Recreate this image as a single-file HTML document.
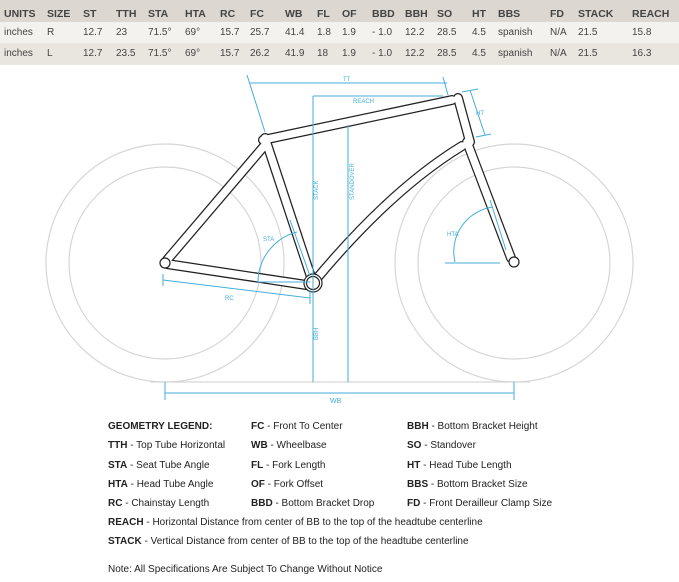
<!DOCTYPE html>
<html><head><meta charset="utf-8"><style>
body{margin:0;background:#fff;width:679px;height:582px;overflow:hidden;font-family:"Liberation Sans",sans-serif;position:relative}
.r{position:absolute;left:0;width:679px;height:21px}
.t{position:absolute;font-size:10px;color:#444;white-space:nowrap}
.h{font-weight:bold;color:#444;font-size:10.5px}
.lg{position:absolute;font-size:10px;color:#222;white-space:nowrap}
.lg b{font-weight:bold}
</style></head><body>
<div class="r" style="top:0;height:22px;background:#dcd7d0"></div>
<div class="r" style="top:22px;background:#f4f2ef"></div>
<div class="r" style="top:43px;background:#e9e5df;height:22px"></div>
<div id="tbl"></div>
<script>
var xs=[4,47,83,116,148,185,220,250,285,317,342,372,405,437,472,498,550,578,632];
var rows=[["UNITS","SIZE","ST","TTH","STA","HTA","RC","FC","WB","FL","OF","BBD","BBH","SO","HT","BBS","FD","STACK","REACH"],
["inches","R","12.7","23","71.5°","69°","15.7","25.7","41.4","1.8","1.9","- 1.0","12.2","28.5","4.5","spanish","N/A","21.5","15.8"],
["inches","L","12.7","23.5","71.5°","69°","15.7","26.2","41.9","18","1.9","- 1.0","12.2","28.5","4.5","spanish","N/A","21.5","16.3"]];
var ys=[8,27,48],h="";
rows.forEach(function(r,i){r.forEach(function(c,j){h+='<div class="t'+(i==0?' h':'')+'" style="left:'+xs[j]+'px;top:'+ys[i]+'px">'+c+'</div>';});});
document.getElementById('tbl').innerHTML=h;
</script>
<svg width="679" height="582" style="position:absolute;left:0;top:0">
<g fill="none" stroke="#d6d6d6" stroke-width="1.2">
<circle cx="165" cy="263" r="119"/><circle cx="165" cy="263" r="96"/>
<circle cx="514" cy="263" r="119"/><circle cx="514" cy="263" r="96"/>
<line x1="150" y1="382" x2="530" y2="382"/>
</g>
<g fill="none" stroke="#222" stroke-width="10" stroke-linecap="round" stroke-linejoin="round">
<path d="M263 140 L452 100"/><path d="M458 98 L470 142"/>
<path d="M462 146 Q390 190 313 283"/><path d="M265 138 L313 283"/>
<path d="M265 145 L167 260"/><path d="M167 264 L313 286"/>
<path d="M467 142 L511 258"/>
</g>
<g fill="none" stroke="#fff" stroke-width="7.5" stroke-linecap="round" stroke-linejoin="round">
<path d="M263 140 L452 100"/><path d="M458 98 L470 142"/>
<path d="M462 146 Q390 190 313 283"/><path d="M265 138 L313 283"/>
<path d="M265 145 L167 260"/><path d="M167 264 L313 286"/>
<path d="M467 142 L511 258"/>
</g>
<g fill="#fff" stroke="#222" stroke-width="1.2">
<circle cx="313" cy="283" r="9"/><circle cx="313" cy="283" r="6.5"/>
<circle cx="165" cy="263" r="5"/><circle cx="514" cy="262" r="5"/>
</g>
<g fill="none" stroke="#45aedb" stroke-width="1">
<line x1="250" y1="83" x2="447" y2="83"/><line x1="247" y1="75" x2="265" y2="132"/><line x1="443" y1="77" x2="448" y2="95"/>
<line x1="313" y1="96" x2="443" y2="96"/>
<line x1="313" y1="96" x2="313" y2="382"/>
<line x1="348" y1="125" x2="348" y2="382"/>
<line x1="470" y1="90" x2="485" y2="135"/><line x1="462" y1="92" x2="478" y2="89"/><line x1="476" y1="137" x2="491" y2="134"/>
<path d="M297 232 A52 52 0 0 0 258 282"/><line x1="258" y1="282" x2="310" y2="282"/><line x1="290" y1="220" x2="310" y2="276"/>
<path d="M455 262 A45 45 0 0 1 493 207"/><line x1="445" y1="263" x2="500" y2="263"/><line x1="490" y1="200" x2="506" y2="250"/>
<line x1="163" y1="280" x2="310" y2="298"/><line x1="163" y1="274" x2="163" y2="286"/><line x1="310" y1="290" x2="310" y2="304"/>
<line x1="165" y1="393" x2="514" y2="393"/><line x1="165" y1="382" x2="165" y2="400"/><line x1="514" y1="382" x2="514" y2="400"/>
</g>
<g fill="#45aedb" font-size="6" font-family="Liberation Sans,sans-serif">
<text x="343" y="81">TT</text><text x="353" y="103">REACH</text>
<text x="476" y="115">HT</text><text x="263" y="241">STA</text><text x="447" y="236">HTA</text>
<text x="225" y="300">RC</text><text x="330" y="403" font-size="7">WB</text>
<text transform="translate(318,200) rotate(-90)">STACK</text>
<text transform="translate(318,340) rotate(-90)">BBH</text>
<text transform="translate(354,200) rotate(-90)">STANDOVER</text>
</g>
</svg>
<div class="lg" style="left:108px;top:421px"><b>GEOMETRY LEGEND:</b></div>
<div class="lg" style="left:251px;top:421px"><b>FC</b> - Front To Center</div>
<div class="lg" style="left:407px;top:421px"><b>BBH</b> - Bottom Bracket Height</div>
<div class="lg" style="left:108px;top:440px"><b>TTH</b> - Top Tube Horizontal</div>
<div class="lg" style="left:251px;top:440px"><b>WB</b> - Wheelbase</div>
<div class="lg" style="left:407px;top:440px"><b>SO</b> - Standover</div>
<div class="lg" style="left:108px;top:460px"><b>STA</b> - Seat Tube Angle</div>
<div class="lg" style="left:251px;top:460px"><b>FL</b> - Fork Length</div>
<div class="lg" style="left:407px;top:460px"><b>HT</b> - Head Tube Length</div>
<div class="lg" style="left:108px;top:479px"><b>HTA</b> - Head Tube Angle</div>
<div class="lg" style="left:251px;top:479px"><b>OF</b> - Fork Offset</div>
<div class="lg" style="left:407px;top:479px"><b>BBS</b> - Bottom Bracket Size</div>
<div class="lg" style="left:108px;top:498px"><b>RC</b> - Chainstay Length</div>
<div class="lg" style="left:251px;top:498px"><b>BBD</b> - Bottom Bracket Drop</div>
<div class="lg" style="left:407px;top:498px"><b>FD</b> - Front Derailleur Clamp Size</div>
<div class="lg" style="left:108px;top:517px"><b>REACH</b> - Horizontal Distance from center of BB to the top of the headtube centerline</div>
<div class="lg" style="left:108px;top:536px"><b>STACK</b> - Vertical Distance from center of BB to the top of the headtube centerline</div>
<div class="lg" style="left:108px;top:564px">Note: All Specifications Are Subject To Change Without Notice</div>
</body></html>
